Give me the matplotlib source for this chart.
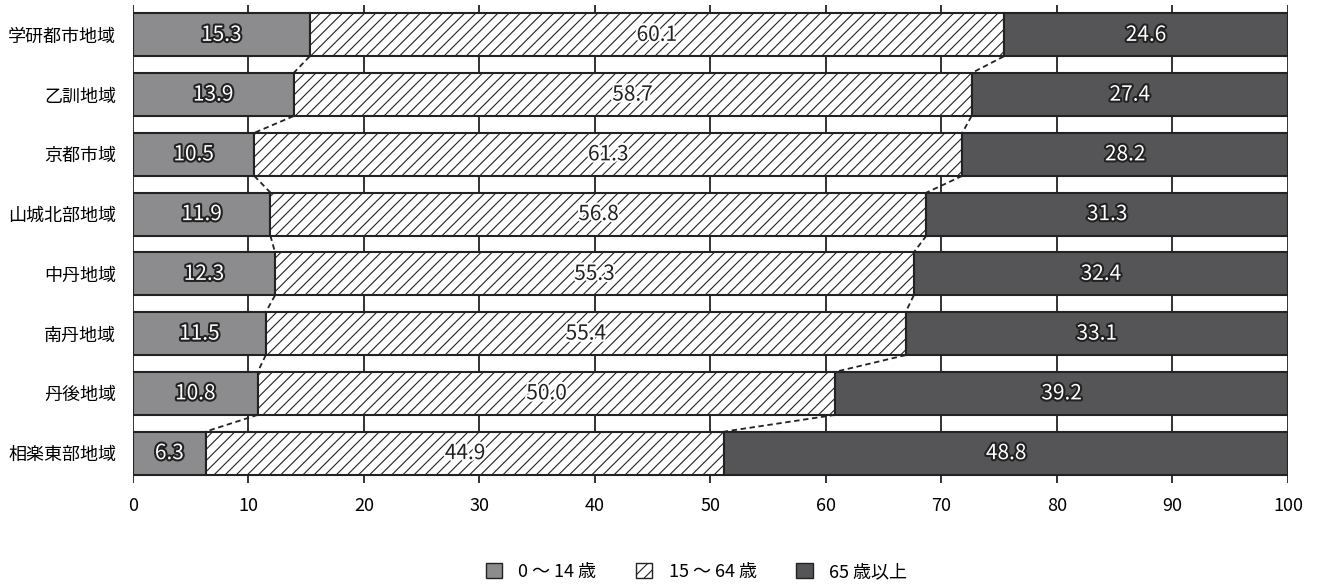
import matplotlib.pyplot as plt
import matplotlib.patheffects as pe
from matplotlib.patches import Patch

plt.rcParams['font.family'] = ['Noto Sans CJK JP', 'DejaVu Sans']
plt.rcParams['hatch.linewidth'] = 0.8

regions = ['学研都市地域', '乙訓地域', '京都市域', '山城北部地域',
           '中丹地域', '南丹地域', '丹後地域', '相楽東部地域']
young = [15.3, 13.9, 10.5, 11.9, 12.3, 11.5, 10.8, 6.3]
working = [60.1, 58.7, 61.3, 56.8, 55.3, 55.4, 50.0, 44.9]
old = [24.6, 27.4, 28.2, 31.3, 32.4, 33.1, 39.2, 48.8]
legend_labels = ['0 ～ 14 歳', '15 ～ 64 歳', '65 歳以上']

light = '#8c8c8e'
dark = '#555557'
h = 0.72

fig = plt.figure(figsize=(13.19, 5.86), dpi=100)
ax = fig.add_axes([0.1008, 0.1758, 0.8757, 0.8157])

y = list(range(len(regions)))
left2 = [a + b for a, b in zip(young, working)]
ax.barh(y, young, height=h, color=light, edgecolor='#222222', linewidth=1.5, zorder=3)
ax.barh(y, working, left=young, height=h, color='white', edgecolor='#222222',
        hatch='///', linewidth=1.5, zorder=3)
ax.barh(y, old, left=left2, height=h, color=dark, edgecolor='#222222', linewidth=1.5, zorder=3)

# dashed connectors between bars
for i in range(len(regions) - 1):
    for b in (young, left2):
        ax.plot([b[i], b[i + 1]], [i + h / 2, i + 1 - h / 2], color='#222222',
                linestyle=(0, (3, 2)), linewidth=1.3, zorder=2)

outline_w = [pe.withStroke(linewidth=3, foreground='#222222')]
outline_b = [pe.withStroke(linewidth=3, foreground='white')]
for i in range(len(regions)):
    ax.text(young[i] / 2, i, f'{young[i]:.1f}', ha='center', va='center',
            fontsize=15, color='white', path_effects=outline_w, zorder=5)
    ax.text(young[i] + working[i] / 2, i, f'{working[i]:.1f}', ha='center', va='center',
            fontsize=15, color='#222222', path_effects=outline_b, zorder=5)
    ax.text(left2[i] + old[i] / 2, i, f'{old[i]:.1f}', ha='center', va='center',
            fontsize=15, color='white', path_effects=outline_w, zorder=5)

ax.set_xlim(0, 100)
ax.set_ylim(len(regions) - 0.5, -0.5)
ax.set_xticks(range(0, 101, 10))
ax.set_yticks(y)
ax.set_yticklabels(regions, fontsize=13)
ax.tick_params(axis='both', length=0)
ax.tick_params(axis='x', pad=10, labelsize=13)
ax.tick_params(axis='y', pad=12)
ax.xaxis.grid(True, color='#222222', linewidth=1.3, zorder=0)
ax.set_axisbelow(True)
for s in ax.spines.values():
    s.set_visible(False)

handles = [Patch(facecolor=light, edgecolor='#222222'),
           Patch(facecolor='white', edgecolor='#222222', hatch='///'),
           Patch(facecolor=dark, edgecolor='#222222')]
fig.legend(handles, legend_labels, loc='center', bbox_to_anchor=(0.528, 0.024),
           ncol=3, frameon=False, fontsize=13, handlelength=0.9, handleheight=0.9,
           columnspacing=2.2, handletextpad=0.9)

fig.savefig('out.png', dpi=100)
